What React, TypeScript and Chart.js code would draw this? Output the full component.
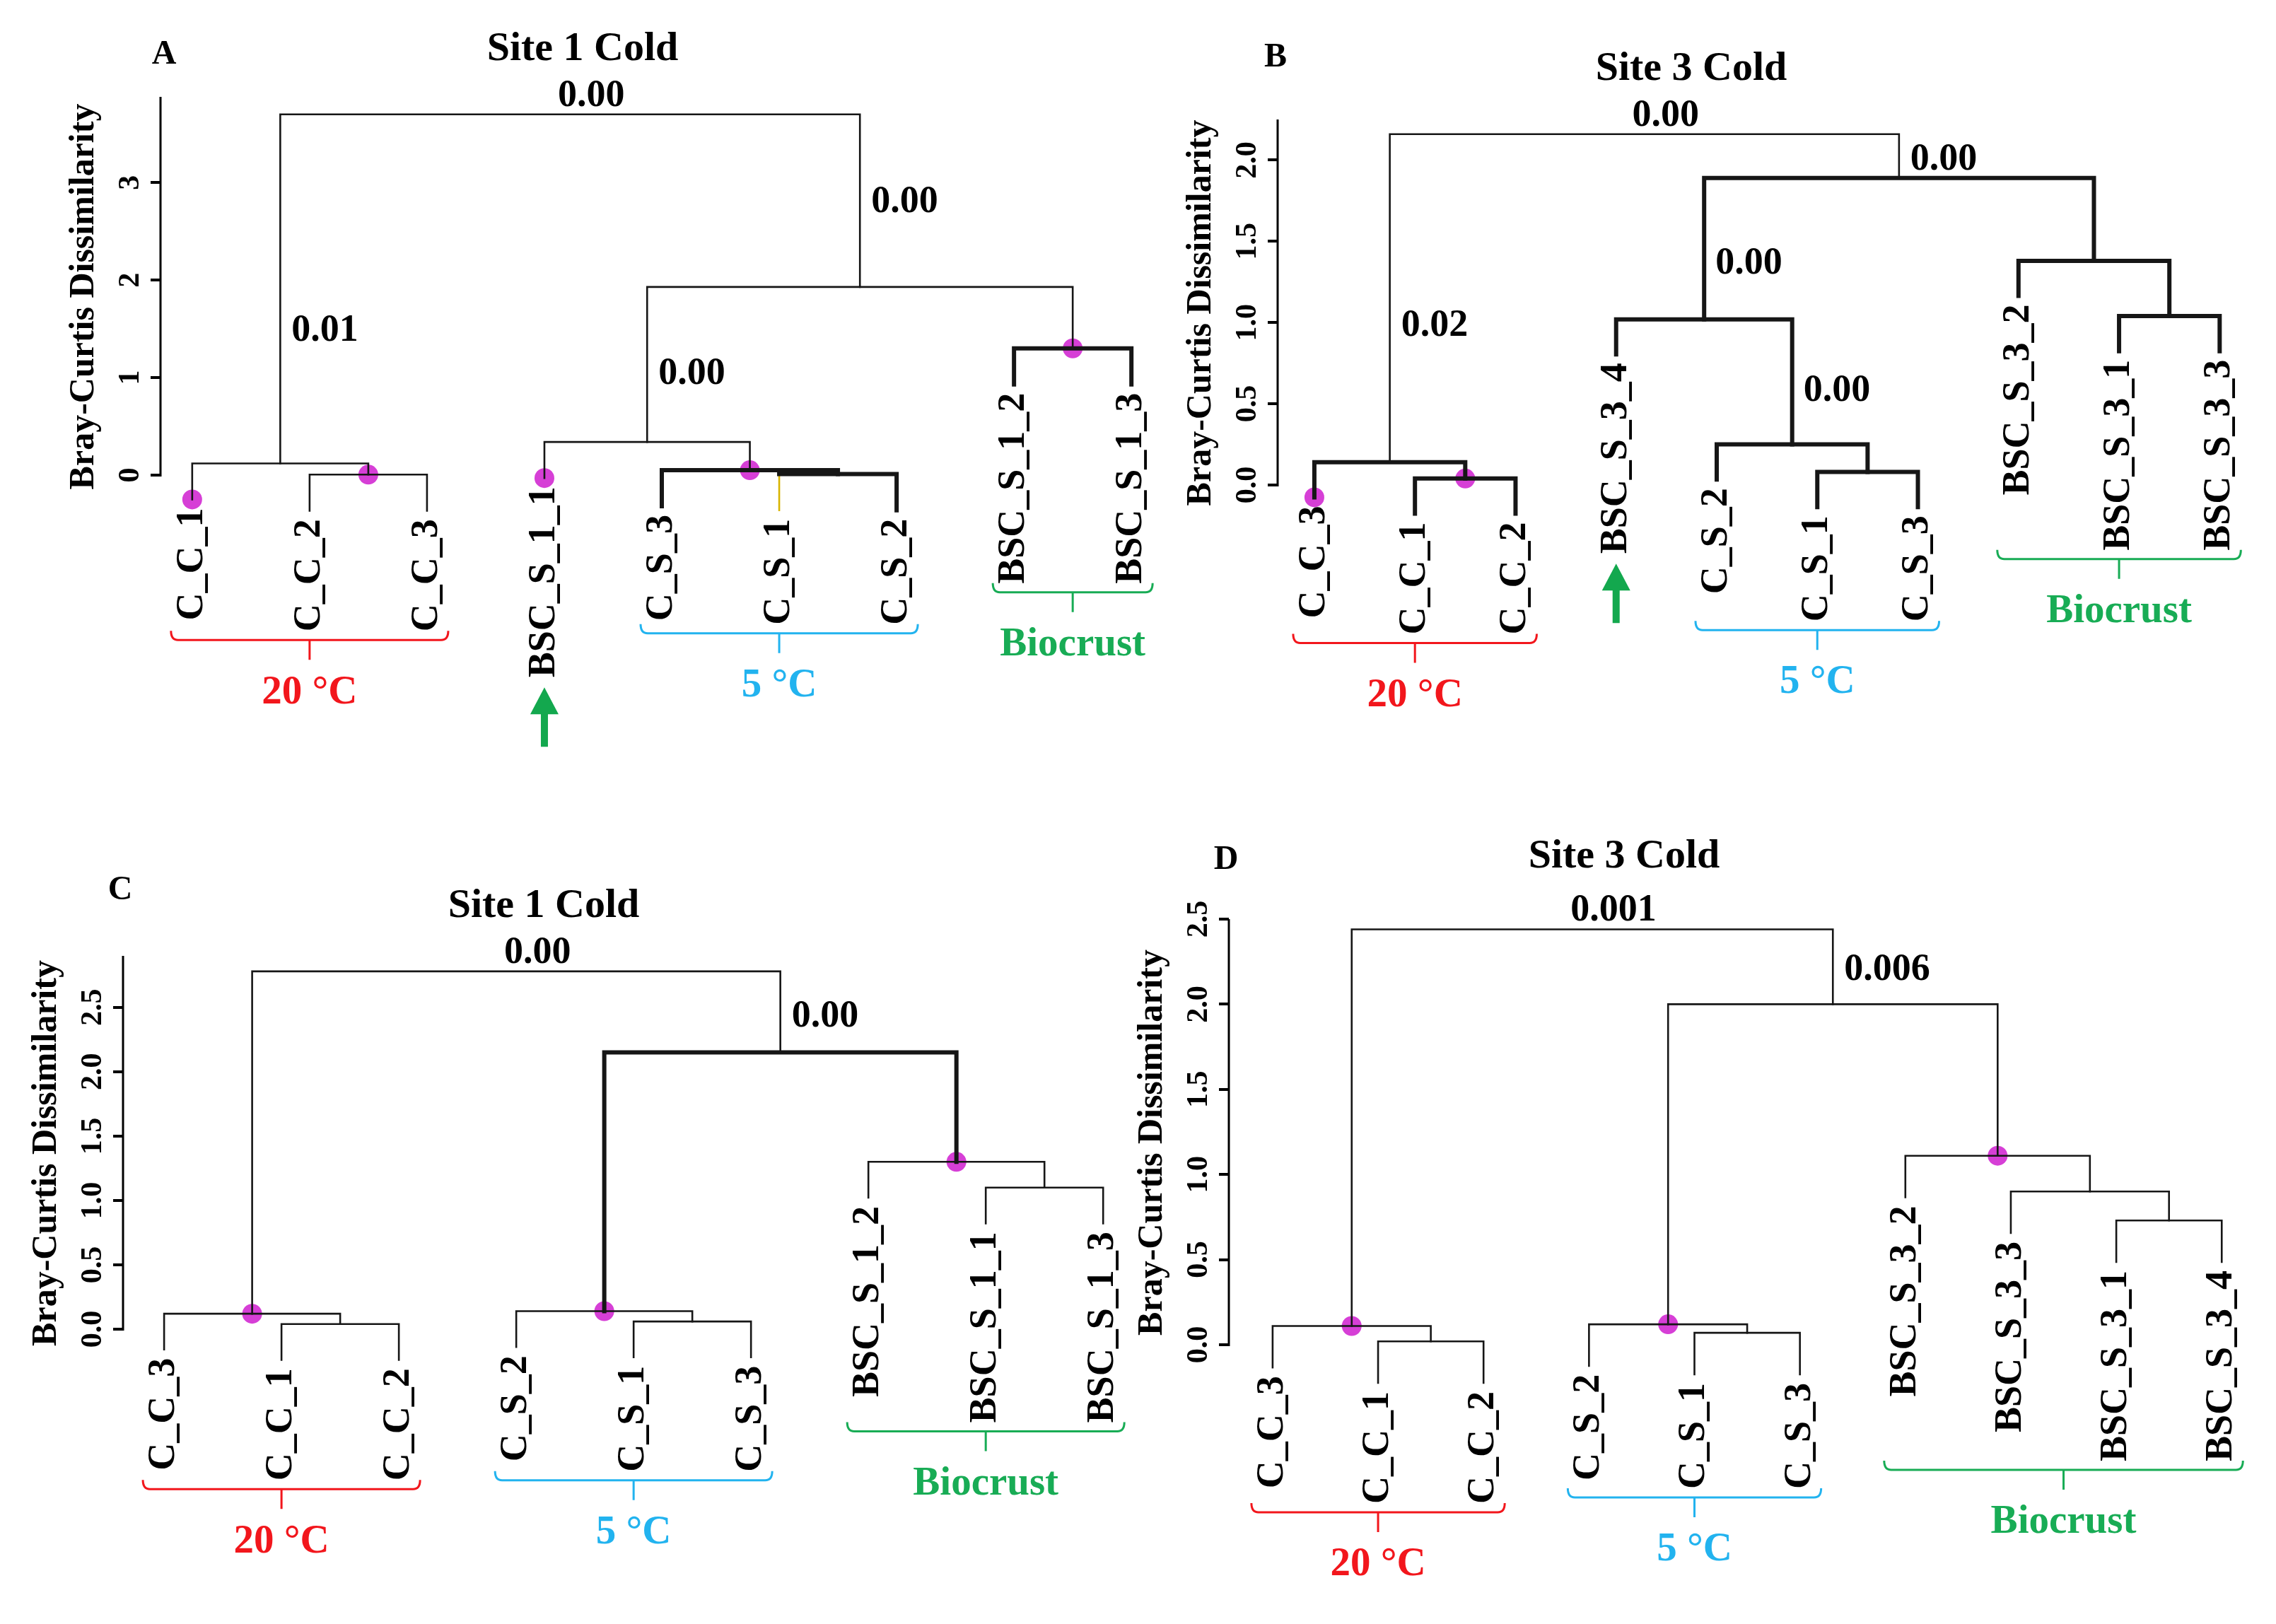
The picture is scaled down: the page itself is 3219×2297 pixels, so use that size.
import React, { useEffect, useRef } from 'react';
import { Chart, registerables } from 'chart.js';
Chart.register(...registerables);

const W = 3219;
const H = 2297;
const AXIS_TITLE = 'Bray-Curtis Dissimilarity';
const HANG = 0.1;

// ---------- Panel A : Site 1 Cold ----------
const leavesA = ['C_C_1', 'C_C_2', 'C_C_3', 'BSC_S_1_1', 'C_S_3', 'C_S_1', 'C_S_2', 'BSC_S_1_2', 'BSC_S_1_3'];
const mergesA: [string, string, string, number][] = [
  ['a1', 'C_C_2', 'C_C_3', 0.005],
  ['a2', 'C_C_1', 'a1', 0.12],
  ['a3', 'C_S_1', 'C_S_2', 0.01],
  ['a4', 'C_S_3', 'a3', 0.05],
  ['a5', 'BSC_S_1_1', 'a4', 0.34],
  ['a6', 'BSC_S_1_2', 'BSC_S_1_3', 1.3],
  ['a7', 'a5', 'a6', 1.93],
  ['a8', 'a2', 'a7', 3.7],
];
const pValuesA: [string, string, number | null][] = [
  ['a8', '0.00', null], ['a7', '0.00', 2.8], ['a2', '0.01', 1.48], ['a5', '0.00', 1.04],
];
const yTicksA = [0, 1, 2, 3];
const yTickLabelsA = ['0', '1', '2', '3'];
const dotsA = ['C_C_1', 'a1', 'BSC_S_1_1', 'a4', 'a6'];
const groupsA: [string, string, string][] = [['20 °C', 'C_C_1', 'C_C_3'], ['5 °C', 'C_S_3', 'C_S_2'], ['Biocrust', 'BSC_S_1_2', 'BSC_S_1_3']];
const arrowsA = ['BSC_S_1_1'];

// ---------- Panel B : Site 3 Cold ----------
const leavesB = ['C_C_3', 'C_C_1', 'C_C_2', 'BSC_S_3_4', 'C_S_2', 'C_S_1', 'C_S_3', 'BSC_S_3_2', 'BSC_S_3_1', 'BSC_S_3_3'];
const mergesB: [string, string, string, number][] = [
  ['b1', 'C_C_1', 'C_C_2', 0.04],
  ['b2', 'C_C_3', 'b1', 0.14],
  ['b3', 'C_S_1', 'C_S_3', 0.08],
  ['b4', 'C_S_2', 'b3', 0.25],
  ['b5', 'BSC_S_3_4', 'b4', 1.02],
  ['b6', 'BSC_S_3_1', 'BSC_S_3_3', 1.04],
  ['b7', 'BSC_S_3_2', 'b6', 1.38],
  ['b8', 'b5', 'b7', 1.89],
  ['b9', 'b2', 'b8', 2.16],
];
const pValuesB: [string, string, number | null][] = [
  ['b9', '0.00', null], ['b8', '0.00', 2.0], ['b5', '0.00', 1.36], ['b2', '0.02', 0.98], ['b4', '0.00', 0.58],
];
const yTicksB = [0, 0.5, 1, 1.5, 2];
const yTickLabelsB = ['0.0', '0.5', '1.0', '1.5', '2.0'];
const dotsB = ['C_C_3', 'b1'];
const groupsB: [string, string, string][] = [['20 °C', 'C_C_3', 'C_C_2'], ['5 °C', 'C_S_2', 'C_S_3'], ['Biocrust', 'BSC_S_3_2', 'BSC_S_3_3']];
const arrowsB = ['BSC_S_3_4'];

// ---------- Panel C : Site 1 Cold ----------
const leavesC = ['C_C_3', 'C_C_1', 'C_C_2', 'C_S_2', 'C_S_1', 'C_S_3', 'BSC_S_1_2', 'BSC_S_1_1', 'BSC_S_1_3'];
const mergesC: [string, string, string, number][] = [
  ['c1', 'C_C_1', 'C_C_2', 0.04],
  ['c2', 'C_C_3', 'c1', 0.12],
  ['c3', 'C_S_1', 'C_S_3', 0.06],
  ['c4', 'C_S_2', 'c3', 0.14],
  ['c5', 'BSC_S_1_1', 'BSC_S_1_3', 1.1],
  ['c6', 'BSC_S_1_2', 'c5', 1.3],
  ['c7', 'c4', 'c6', 2.15],
  ['c8', 'c2', 'c7', 2.78],
];
const pValuesC: [string, string, number | null][] = [['c8', '0.00', null], ['c7', '0.00', 2.43]];
const yTicksC = [0, 0.5, 1, 1.5, 2, 2.5];
const yTickLabelsC = ['0.0', '0.5', '1.0', '1.5', '2.0', '2.5'];
const dotsC = ['c2', 'c4', 'c6'];
const groupsC: [string, string, string][] = [['20 °C', 'C_C_3', 'C_C_2'], ['5 °C', 'C_S_2', 'C_S_3'], ['Biocrust', 'BSC_S_1_2', 'BSC_S_1_3']];

// ---------- Panel D : Site 3 Cold ----------
const leavesD = ['C_C_3', 'C_C_1', 'C_C_2', 'C_S_2', 'C_S_1', 'C_S_3', 'BSC_S_3_2', 'BSC_S_3_3', 'BSC_S_3_1', 'BSC_S_3_4'];
const mergesD: [string, string, string, number][] = [
  ['d1', 'C_C_1', 'C_C_2', 0.02],
  ['d2', 'C_C_3', 'd1', 0.11],
  ['d3', 'C_S_1', 'C_S_3', 0.07],
  ['d4', 'C_S_2', 'd3', 0.12],
  ['d5', 'BSC_S_3_1', 'BSC_S_3_4', 0.73],
  ['d6', 'BSC_S_3_3', 'd5', 0.9],
  ['d7', 'BSC_S_3_2', 'd6', 1.11],
  ['d8', 'd4', 'd7', 2.0],
  ['d9', 'd2', 'd8', 2.44],
];
const pValuesD: [string, string, number | null][] = [['d9', '0.001', null], ['d8', '0.006', 2.2]];
const yTicksD = [0, 0.5, 1, 1.5, 2, 2.5];
const yTickLabelsD = ['0.0', '0.5', '1.0', '1.5', '2.0', '2.5'];
const dotsD = ['d2', 'd4', 'd7'];
const groupsD: [string, string, string][] = [['20 °C', 'C_C_3', 'C_C_2'], ['5 °C', 'C_S_2', 'C_S_3'], ['Biocrust', 'BSC_S_3_2', 'BSC_S_3_4']];

// ---------- styles / layout ----------
const FONT = '"Liberation Serif", "DejaVu Serif", serif';
const LINE = '#161616';
const DOT = '#d63fd6';
const GROUP_COLORS: Record<string, string> = { '20 °C': '#f2161c', '5 °C': '#22b3ef', Biocrust: '#18ac55' };
const ARROW = '#13a84e';

const PANELS = [
  {
    letter: 'A', title: 'Site 1 Cold', leaves: leavesA, merges: mergesA, notes: pValuesA, yTicks: yTicksA, yTickLabels: yTickLabelsA,
    dots: dotsA, groups: groupsA, arrows: arrowsA, thick: ['a3', 'a4', 'a6'], leafColors: { C_S_1: '#d8b400' } as Record<string, string>,
    yMax: 3.88, frame: { axisX: 227, top: 137, zero: 672, xMin: -0.27, xMax: 8.3, right: 1650, letterX: 232, letterY: 78, titleX: 824, titleY: 70 },
  },
  {
    letter: 'B', title: 'Site 3 Cold', leaves: leavesB, merges: mergesB, notes: pValuesB, yTicks: yTicksB, yTickLabels: yTickLabelsB,
    dots: dotsB, groups: groupsB, arrows: arrowsB, thick: ['b1', 'b2', 'b3', 'b4', 'b5', 'b6', 'b7', 'b8'], leafColors: {} as Record<string, string>,
    yMax: 2.25, frame: { axisX: 1807, top: 169, zero: 686, xMin: -0.365, xMax: 9.3, right: 3182, letterX: 1804, letterY: 82, titleX: 2392, titleY: 98 },
  },
  {
    letter: 'C', title: 'Site 1 Cold', leaves: leavesC, merges: mergesC, notes: pValuesC, yTicks: yTicksC, yTickLabels: yTickLabelsC,
    dots: dotsC, groups: groupsC, arrows: [] as string[], thick: ['c7'], leafColors: {} as Record<string, string>,
    yMax: 2.9, frame: { axisX: 174, top: 1352, zero: 1880, xMin: -0.35, xMax: 8.3, right: 1610, letterX: 170, letterY: 1260, titleX: 769, titleY: 1282 },
  },
  {
    letter: 'D', title: 'Site 3 Cold', leaves: leavesD, merges: mergesD, notes: pValuesD, yTicks: yTicksD, yTickLabels: yTickLabelsD,
    dots: dotsD, groups: groupsD, arrows: [] as string[], thick: [] as string[], leafColors: {} as Record<string, string>,
    yMax: 2.5, frame: { axisX: 1738, top: 1300, zero: 1902, xMin: -0.415, xMax: 9.3, right: 3187, letterX: 1734, letterY: 1217, titleX: 2297, titleY: 1212 },
  },
];

type Panel = typeof PANELS[number];

function maxHeight(p: Panel) {
  return Math.max(...p.merges.map(m => m[3]));
}

function layoutTree(p: Panel) {
  const pos: Record<string, { x: number; h: number }> = {};
  p.leaves.forEach((l, i) => { pos[l] = { x: i, h: 0 }; });
  const hang = HANG * maxHeight(p);
  p.merges.forEach(([id, l, r, h]) => {
    pos[id] = { x: (pos[l].x + pos[r].x) / 2, h };
    [l, r].forEach(c => { if (p.leaves.includes(c)) pos[c].h = h - hang; });
  });
  return pos;
}

function rotText(ctx: CanvasRenderingContext2D, text: string, x: number, y: number, align: CanvasTextAlign) {
  ctx.save();
  ctx.translate(x, y);
  ctx.rotate(-Math.PI / 2);
  ctx.textAlign = align;
  ctx.textBaseline = 'middle';
  ctx.fillText(text, 0, 0);
  ctx.restore();
}

function decorPlugin(p: Panel, pos: Record<string, { x: number; h: number }>) {
  return {
    id: 'decor' + p.letter,
    beforeDatasetsDraw(chart: any) {
      const ctx: CanvasRenderingContext2D = chart.ctx;
      const a = chart.chartArea;
      const ys = chart.scales.y;
      ctx.save();
      ctx.strokeStyle = '#000';
      ctx.lineWidth = 3;
      ctx.beginPath();
      ctx.moveTo(a.left, ys.getPixelForValue(0) + 2);
      ctx.lineTo(a.left, a.top);
      ctx.stroke();
      ctx.restore();
    },
    afterDraw(chart: any) {
      const ctx: CanvasRenderingContext2D = chart.ctx;
      const xs = chart.scales.x;
      const ys = chart.scales.y;
      const a = chart.chartArea;
      const X = (id: string) => xs.getPixelForValue(pos[id].x);
      const Y = (v: number) => ys.getPixelForValue(v);
      const f = p.frame;
      const y0 = Y(0);
      ctx.save();
      ctx.fillStyle = '#000';

      ctx.font = `bold 42px ${FONT}`;
      p.yTicks.forEach((v, i) => rotText(ctx, p.yTickLabels[i], a.left - 42, Y(v), 'center'));

      ctx.font = `bold 50px ${FONT}`;
      rotText(ctx, AXIS_TITLE, a.left - 108, (a.top + y0) / 2 + 15, 'center');

      ctx.textAlign = 'center';
      ctx.textBaseline = 'middle';
      ctx.font = `bold 48px ${FONT}`;
      ctx.fillText(p.letter, f.letterX, f.letterY);
      ctx.font = `bold 58px ${FONT}`;
      ctx.fillText(p.title, f.titleX, f.titleY);

      ctx.font = `bold 54px ${FONT}`;
      p.notes.forEach(([id, text, yv]) => {
        if (yv === null) {
          ctx.textAlign = 'center';
          ctx.textBaseline = 'alphabetic';
          ctx.fillText(text, X(id) + 30, Y(pos[id].h) - 12);
        } else {
          ctx.textAlign = 'left';
          ctx.textBaseline = 'middle';
          ctx.fillText(text, X(id) + 16, Y(yv));
        }
      });

      ctx.font = `bold 54px ${FONT}`;
      const bottoms: Record<string, number> = {};
      p.leaves.forEach(l => {
        const top = Y(pos[l].h) + 12;
        rotText(ctx, l, X(l), top, 'right');
        bottoms[l] = top + ctx.measureText(l).width;
      });

      p.groups.forEach(([label, first, last]) => {
        const i0 = p.leaves.indexOf(first);
        const i1 = p.leaves.indexOf(last);
        const span = p.leaves.slice(i0, i1 + 1);
        const by = Math.max(...span.map(l => bottoms[l])) + 12;
        const x1 = X(first) - 30;
        const x2 = X(last) + 30;
        const xm = (x1 + x2) / 2;
        const col = GROUP_COLORS[label];
        ctx.strokeStyle = col;
        ctx.lineWidth = 3;
        ctx.beginPath();
        ctx.moveTo(x1, by - 13);
        ctx.quadraticCurveTo(x1, by, x1 + 10, by);
        ctx.lineTo(x2 - 10, by);
        ctx.quadraticCurveTo(x2, by, x2, by - 13);
        ctx.moveTo(xm, by);
        ctx.lineTo(xm, by + 28);
        ctx.stroke();
        ctx.fillStyle = col;
        ctx.font = `bold 57px ${FONT}`;
        ctx.textAlign = 'center';
        ctx.textBaseline = 'top';
        ctx.fillText(label, xm, by + 46);
      });

      ctx.fillStyle = ARROW;
      p.arrows.forEach(l => {
        const x = X(l);
        const tip = bottoms[l] + 14;
        const len = 84;
        const hw = 20;
        const hl = 38;
        const sw = 5;
        ctx.beginPath();
        ctx.moveTo(x, tip);
        ctx.lineTo(x + hw, tip + hl);
        ctx.lineTo(x + sw, tip + hl);
        ctx.lineTo(x + sw, tip + len);
        ctx.lineTo(x - sw, tip + len);
        ctx.lineTo(x - sw, tip + hl);
        ctx.lineTo(x - hw, tip + hl);
        ctx.closePath();
        ctx.fill();
      });
      ctx.restore();
    },
  };
}

function makeChart(canvas: HTMLCanvasElement, p: Panel) {
  const pos = layoutTree(p);
  const f = p.frame;
  const tickLength = 14;
  const yMin = -HANG * maxHeight(p) * 1.8;
  const pxPerUnit = (f.zero - f.top) / p.yMax;
  const bottomPx = f.zero - yMin * pxPerUnit;

  const datasets: any[] = p.merges.map(([id, l, r, h]) => ({
    data: [
      { x: pos[l].x, y: pos[l].h },
      { x: pos[l].x, y: h },
      { x: pos[r].x, y: h },
      { x: pos[r].x, y: pos[r].h },
    ],
    showLine: true,
    borderColor: LINE,
    borderWidth: p.thick.includes(id) ? 6 : 2.6,
    borderCapStyle: 'square',
    borderJoinStyle: 'miter',
    pointRadius: 0,
    tension: 0,
    clip: false,
    segment: {
      borderColor: (ctx: any) => {
        if (ctx.p0DataIndex === 0 && p.leafColors[l]) return p.leafColors[l];
        if (ctx.p0DataIndex === 2 && p.leafColors[r]) return p.leafColors[r];
        return undefined;
      },
      borderWidth: (ctx: any) => {
        if ((ctx.p0DataIndex === 0 && p.leafColors[l]) || (ctx.p0DataIndex === 2 && p.leafColors[r])) return 2.6;
        return undefined;
      },
    },
  }));
  const dotData = p.dots.map(id => ({ x: pos[id].x, y: pos[id].h })).sort((u, v) => u.x - v.x);
  datasets.push({
    data: dotData,
    showLine: false,
    pointRadius: 14,
    pointBackgroundColor: DOT,
    pointBorderWidth: 0,
    clip: false,
  });

  return new Chart(canvas, {
    type: 'scatter',
    data: { datasets },
    options: {
      animation: false,
      responsive: false,
      devicePixelRatio: 1,
      events: [],
      layout: {
        autoPadding: false,
        padding: { left: f.axisX - tickLength, top: f.top, right: W - f.right, bottom: H - bottomPx },
      },
      plugins: { legend: { display: false }, tooltip: { enabled: false }, title: { display: false } },
      scales: {
        x: { type: 'linear', display: false, min: f.xMin, max: f.xMax },
        y: {
          type: 'linear',
          position: 'left',
          min: yMin,
          max: p.yMax,
          afterBuildTicks: (s: any) => { s.ticks = p.yTicks.map(v => ({ value: v })); },
          ticks: { display: false },
          grid: { display: true, drawOnChartArea: false, drawTicks: true, tickLength, color: '#000', lineWidth: 4 },
          border: { display: false },
        },
      },
    } as any,
    plugins: [decorPlugin(p, pos)],
  });
}

export default function App() {
  const refs = useRef<(HTMLCanvasElement | null)[]>([]);
  useEffect(() => {
    document.body.style.margin = '0';
    const charts = PANELS.map((p, i) => makeChart(refs.current[i] as HTMLCanvasElement, p));
    return () => charts.forEach(c => c.destroy());
  }, []);
  return (
    <div style={{ position: 'relative', width: W, height: H, background: '#fff', overflow: 'hidden' }}>
      {PANELS.map((p, i) => (
        <canvas
          key={p.letter}
          ref={el => { refs.current[i] = el; }}
          width={W}
          height={H}
          style={{ position: 'absolute', left: 0, top: 0, width: W, height: H }}
        />
      ))}
    </div>
  );
}
